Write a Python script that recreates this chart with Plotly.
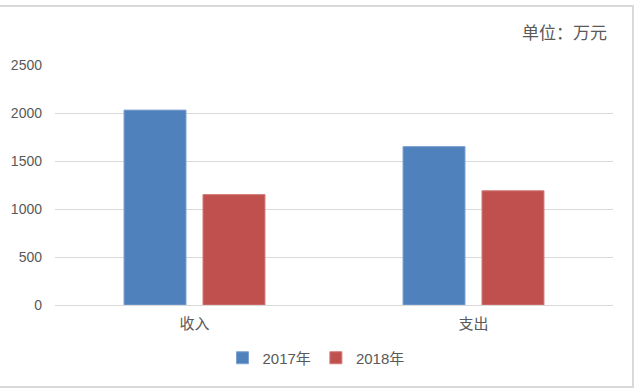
import plotly.graph_objects as go

categories = ["收入", "支出"]
series_names = ["2017年", "2018年"]
values_2017 = [2030, 1650]
values_2018 = [1150, 1190]
y_ticks = [0, 500, 1000, 1500, 2000, 2500]
unit_label = "单位：万元"

colors = ["#4F81BD", "#C0504D"]
edge_colors = ["#7FA3D1", "#D27C7A"]

font_family = "Liberation Sans, Noto Sans CJK SC"
gray = "#595959"

L, R, T, B = 55, 613, 65, 305
PW, PH = R - L, B - T

fig = go.Figure()
for name, vals, c, e in zip(series_names, [values_2017, values_2018], colors, edge_colors):
    fig.add_trace(go.Bar(
        x=categories, y=vals, name=name,
        marker=dict(color=c, line=dict(color=e, width=1)),
    ))

fig.update_layout(
    width=642, height=391,
    margin=dict(l=L, r=642 - R, t=T, b=391 - B, autoexpand=False),
    paper_bgcolor="white", plot_bgcolor="white",
    barmode="group", bargap=0.434, bargroupgap=0.215,
    font=dict(family=font_family, size=13, color=gray),
    showlegend=True,
    legend=dict(orientation="h", xref="container", x=316 / 642, xanchor="center",
                yref="container", y=1 - 358 / 391, yanchor="middle",
                font=dict(size=15, color=gray, family="Liberation Sans, Noto Sans CJK SC"),
                itemwidth=30, traceorder="normal"),
    xaxis=dict(showgrid=False, showline=True, linecolor="#D9D9D9", linewidth=1,
               tickfont=dict(size=15, color=gray, family="Noto Sans CJK SC"),
               ticks="", ticklabelstandoff=5),
    yaxis=dict(range=[0, 2500], tickvals=y_ticks, showgrid=True, gridcolor="#D9D9D9",
               gridwidth=1, zeroline=False, showline=False, ticks="",
               tickfont=dict(size=14, color=gray), ticklabelstandoff=12),
    annotations=[dict(text=unit_label, xref="paper", yref="paper",
                      x=(609 - L) / PW, y=(B - 31) / PH, xanchor="right", yanchor="middle",
                      showarrow=False, font=dict(size=17, color=gray, family="Noto Sans CJK SC"))],
    shapes=[dict(type="rect", xref="paper", yref="paper",
                 x0=(-3 - L) / PW, x1=(633 - L) / PW, y0=(B - 387) / PH, y1=(B - 6) / PH,
                 line=dict(color="#D9D9D9", width=2), fillcolor="rgba(0,0,0,0)", layer="below")],
)

fig.write_html("out.html", config={"displayModeBar": False},
               post_script="document.body.style.margin='0';")
